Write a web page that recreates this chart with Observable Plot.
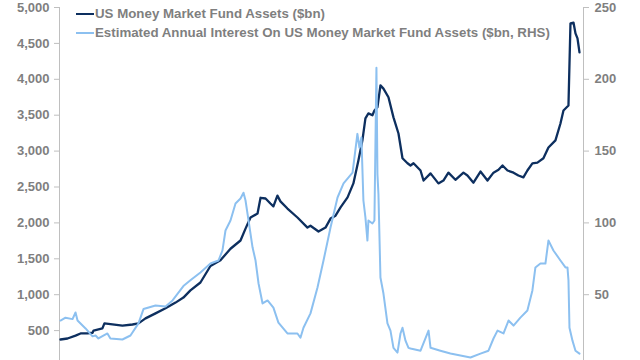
<!DOCTYPE html>
<html>
<head>
<meta charset="utf-8">
<script src="https://cdn.jsdelivr.net/npm/d3@7"></script>
<script src="https://cdn.jsdelivr.net/npm/@observablehq/plot@0.6"></script>
<style>
  html, body { margin: 0; padding: 0; background: #fff; overflow: hidden; }
  #wrap { position: relative; width: 640px; height: 360px; overflow: hidden; }
  #legend { position: absolute; left: 76px; top: 4px; font-family: "Liberation Sans", Arial, sans-serif;
            font-size: 13.3px; font-weight: bold; color: #7f7f7f; line-height: 19px; }
  #legend .row { display: flex; align-items: center; white-space: nowrap; }
  #legend .sw { width: 18px; height: 2px; margin-right: 1px; }
</style>
</head>
<body>
<div id="wrap">
  <div id="chart"></div>
  <div id="legend"></div>
</div>
<script>
// US Money Market Fund Assets ($bn), decimal year
const assetYears = [1989.78,1990.2,1990.68,1990.98,1991.4,1991.7,1991.76,1992.29,1992.41,1993.49,1994.09,1994.45,1994.87,1995.47,1996.07,1996.67,1997.14,1997.56,1998.16,1998.76,1999.36,1999.96,2000.56,2000.86,2001.16,2001.58,2001.76,2002.06,2002.35,2002.53,2002.77,2002.95,2003.37,2003.97,2004.57,2004.75,2005.23,2005.65,2005.95,2006.25,2006.55,2006.97,2007.32,2007.62,2007.86,2008.04,2008.22,2008.46,2008.58,2008.76,2008.94,2009.12,2009.42,2009.72,2010.02,2010.26,2010.56,2010.74,2010.92,2011.34,2011.52,2011.94,2012.41,2012.71,2013.01,2013.43,2013.91,2014.15,2014.51,2014.93,2015.35,2015.71,2016.01,2016.25,2016.55,2016.91,2017.2,2017.5,2017.74,2018.04,2018.34,2018.7,2019.0,2019.42,2019.72,2019.9,2020.2,2020.32,2020.5,2020.62,2020.74,2020.86];
const assetValues = [376,390,430,460,460,470,500,530,600,570,585,600,670,740,810,890,960,1060,1170,1400,1480,1640,1755,1920,2075,2130,2350,2340,2270,2230,2380,2300,2200,2075,1935,1960,1880,1935,2060,2100,2215,2355,2550,2870,3150,3455,3525,3500,3565,3610,3915,3870,3750,3470,3245,2900,2830,2800,2830,2730,2590,2690,2550,2590,2700,2600,2700,2660,2560,2715,2590,2700,2740,2800,2730,2700,2660,2635,2730,2830,2840,2900,3050,3150,3385,3565,3635,4780,4790,4640,4570,4375];

// Estimated Annual Interest On US Money Market Fund Assets ($bn, RHS)
const interestYears = [1989.78,1990.08,1990.5,1990.68,1990.8,1991.28,1991.7,1991.88,1992.05,1992.59,1992.77,1993.49,1993.97,1994.45,1994.75,1995.47,1996.07,1996.49,1997.14,1997.56,1998.16,1998.76,1999.24,1999.48,1999.66,1999.96,2000.26,2000.56,2000.74,2000.86,2001.04,2001.28,2001.46,2001.64,2001.88,2002.18,2002.53,2002.83,2003.37,2003.97,2004.15,2004.33,2004.75,2005.17,2005.53,2005.95,2006.37,2006.73,2007.27,2007.56,2007.68,2007.8,2007.92,2008.04,2008.16,2008.22,2008.46,2008.58,2008.7,2008.76,2008.82,2008.94,2009.12,2009.36,2009.54,2009.72,2009.96,2010.14,2010.26,2010.44,2010.62,2010.74,2011.34,2011.82,2011.94,2012.53,2013.13,2013.73,2014.33,2014.93,2015.41,2015.71,2015.95,2016.31,2016.61,2016.91,2017.32,2017.74,2018.04,2018.22,2018.52,2018.82,2019.0,2019.3,2019.72,2020.02,2020.14,2020.2,2020.26,2020.44,2020.62,2020.86];
const interestValues = [32,34,33,37.6,32,26.5,21,21.6,19.5,23,19.5,18.8,21.6,30,40,42.5,41.8,46,56,60,65.5,71.7,73.8,80.8,94.7,101.7,113.5,117,121,115.6,101.7,83,73.8,57.8,43.9,46,41,30.6,23,23,20,27,37,55,73.8,96.8,117.7,127.5,135,162,152.5,159.5,115.6,103.8,87.7,101.7,99.6,101.7,208,134,120,62,50.8,30,25,13,9.7,23,27,18,13,12.5,11,25,13,11,9,7.7,6.3,9,11,19.5,25,23,32,28.5,34,39,53,69,71.7,71.7,87.7,80.8,73.8,69,69,60,27,18,11,9];

const leftTicks = [500,1000,1500,2000,2500,3000,3500,4000,4500,5000];
const rightTicks = [50,100,150,200,250];
const seriesNames = ["US Money Market Fund Assets ($bn)", "Estimated Annual Interest On US Money Market Fund Assets ($bn, RHS)"];
const seriesColors = ["#0d2f5f", "#8cc0f0"];

const rhsFactor = 5000 / 250;
const assets = assetYears.map((y, i) => ({year: y, value: assetValues[i]}));
const interest = interestYears.map((y, i) => ({year: y, value: interestValues[i]}));
const xDomain = [1989.72, 2021.1];

const chart = Plot.plot({
  width: 640,
  height: 360,
  marginLeft: 59,
  marginRight: 57,
  marginTop: 7,
  marginBottom: 0,
  style: {fontFamily: "'Liberation Sans', Arial, sans-serif", fontSize: "13px", fontWeight: "bold", background: "white", color: "#7f7f7f", overflow: "hidden"},
  x: {domain: xDomain, range: [59, 583], axis: null},
  y: {domain: [0, 5000], range: [366, 7], axis: null},
  marks: [
    Plot.ruleX([xDomain[0]], {stroke: "#bfbfbf", strokeWidth: 1}),
    Plot.ruleX([xDomain[1]], {stroke: "#bfbfbf", strokeWidth: 1}),
    Plot.axisY({anchor: "left", ticks: leftTicks, tickFormat: d3.format(","), tickSize: 5, tickPadding: 5, stroke: "#bfbfbf", fill: "#7f7f7f", label: null}),
    Plot.axisY({anchor: "right", ticks: rightTicks.map(d => d * rhsFactor), tickFormat: d => String(d / rhsFactor), tickSize: 5, tickPadding: 6, stroke: "#bfbfbf", fill: "#7f7f7f", label: null}),
    Plot.line(assets, {x: "year", y: "value", stroke: seriesColors[0], strokeWidth: 2.3, curve: "linear"}),
    Plot.line(interest, {x: "year", y: d => d.value * rhsFactor, stroke: seriesColors[1], strokeWidth: 2, curve: "linear"})
  ]
});
document.getElementById("chart").appendChild(chart);

const legend = document.getElementById("legend");
seriesNames.forEach((name, i) => {
  const row = document.createElement("div");
  row.className = "row";
  const sw = document.createElement("span");
  sw.className = "sw";
  sw.style.background = seriesColors[i];
  const tx = document.createElement("span");
  tx.textContent = name;
  row.appendChild(sw);
  row.appendChild(tx);
  legend.appendChild(row);
});
</script>
</body>
</html>
